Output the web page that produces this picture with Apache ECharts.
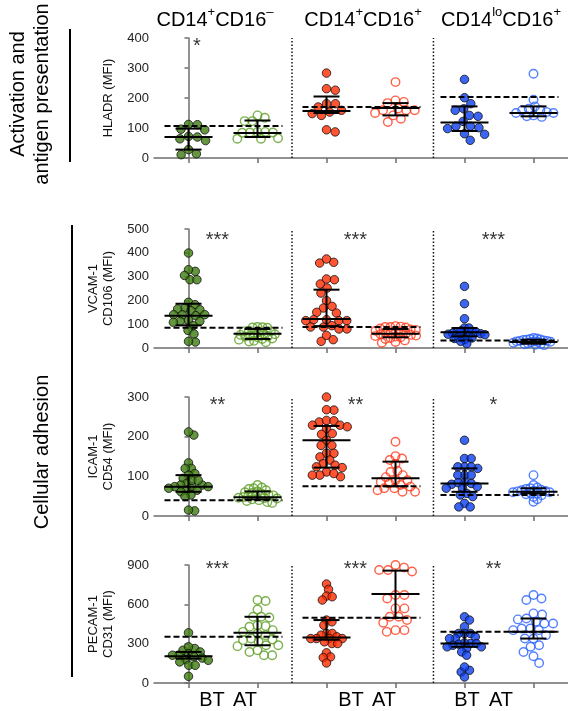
<!DOCTYPE html>
<html>
<head>
<meta charset="utf-8">
<title>Monocyte subsets, BT vs AT</title>
<script src="https://cdn.jsdelivr.net/npm/echarts@6.0.0/dist/echarts.min.js"></script>
<style>
  html, body { margin: 0; padding: 0; background: #fff; }
  #chart { width: 568px; height: 711px; }
</style>
</head>
<body>
<div id="chart"></div>
<script>
// ---- values (MFI) ----
const timePoints = ['BT', 'AT'];
const subsetHeaders = [
  '{b|CD14}{s|+}{b|CD16}{s|–}',
  '{b|CD14}{s|+}{b|CD16}{s|+}',
  '{b|CD14}{s|lo}{b|CD16}{s|+}'
];

// HLADR
const hladrGreenBT = [111, 112, 96, 94, 72, 64, 70, 28, 11, 14, 58];
const hladrGreenAT = [142, 123, 123, 134, 87, 87, 85, 84, 85, 64, 64, 66];
const hladrRedBT = [283, 231, 226, 181, 181, 170, 159, 153, 148, 142, 87, 94];
const hladrRedAT = [253, 187, 192, 183, 142, 159, 159, 159, 120, 131, 165, 150];
const hladrBlueBT = [262, 201, 181, 164, 159, 142, 139, 122, 106, 98, 101, 106, 81, 79, 59];
const hladrBlueAT = [281, 194, 172, 159, 159, 164, 153, 150, 139, 137, 142, 150];
const hladrMedian = [70, 83, 157, 167, 118, 150];
const hladrQ1 = [28, 70, 150, 142, 90, 139];
const hladrQ3 = [98, 125, 205, 183, 172, 172];
const hladrRef = [107, 170, 203];
const hladrStars = ['*', '', ''];

// VCAM-1
const vcamGreenBT = [399, 322, 329, 287, 287, 305, 192, 182, 168, 161, 157, 164, 140, 140, 136, 140, 112, 108, 112, 116, 94, 74, 59, 25, 28];
const vcamGreenAT = [88, 86, 87, 85, 72, 70, 70, 68, 62, 60, 58, 55, 50, 48, 48, 45, 38, 30, 27, 24, 40, 35];
const vcamRedBT = [360, 357, 374, 290, 269, 287, 252, 231, 199, 168, 175, 147, 150, 119, 115, 119, 115, 115, 88, 88, 94, 80, 80, 53, 35, 28];
const vcamRedAT = [92, 90, 88, 88, 86, 82, 78, 76, 72, 70, 68, 66, 64, 60, 58, 55, 52, 50, 48, 45, 42, 38, 32, 25, 22];
const vcamBlueBT = [259, 186, 123, 84, 84, 66, 70, 66, 66, 62, 60, 56, 49, 52, 45, 42, 40, 35, 18, 28, 72, 58];
const vcamBlueAT = [42, 40, 38, 36, 34, 32, 30, 30, 28, 26, 25, 24, 22, 20, 18, 16, 14, 12, 35, 28];
const vcamMedian = [136, 60, 122, 60, 66, 25];
const vcamQ1 = [95, 38, 92, 45, 49, 18];
const vcamQ3 = [186, 80, 245, 80, 84, 35];
const vcamRef = [85, 88, 32];
const vcamStars = ['***', '***', '***'];

// ICAM-1
const icamGreenBT = [204, 212, 134, 120, 120, 107, 103, 95, 82, 78, 74, 78, 74, 74, 65, 61, 65, 53, 49, 13, 15, 90, 90, 70];
const icamGreenAT = [78, 72, 70, 68, 65, 62, 60, 58, 56, 54, 52, 50, 50, 48, 46, 45, 44, 42, 40, 38, 35, 33];
const icamRedBT = [300, 267, 268, 237, 241, 240, 229, 229, 225, 220, 206, 208, 191, 178, 178, 158, 149, 158, 141, 132, 128, 124, 122, 111, 103, 99, 103, 107];
const icamRedAT = [187, 151, 145, 131, 141, 111, 114, 103, 78, 82, 90, 86, 90, 70, 70, 65, 74, 61, 61, 98];
const icamBlueBT = [191, 145, 145, 120, 124, 124, 124, 103, 103, 103, 86, 82, 80, 84, 70, 74, 70, 57, 49, 53, 32, 23, 23];
const icamBlueAT = [103, 78, 72, 70, 68, 66, 65, 64, 63, 62, 60, 60, 58, 57, 55, 52, 48, 42, 36];
const icamMedian = [74, 47, 191, 95, 82, 61];
const icamQ1 = [61, 42, 122, 75, 61, 57];
const icamQ3 = [103, 62, 227, 137, 120, 70];
const icamRef = [40, 75, 53];
const icamStars = ['**', '**', '*'];

// PECAM-1
const pecamGreenBT = [383, 250, 263, 276, 237, 224, 212, 199, 212, 190, 173, 179, 161, 135, 135, 51];
const pecamGreenAT = [633, 625, 561, 505, 505, 500, 441, 434, 429, 403, 378, 365, 390, 339, 332, 314, 327, 288, 288, 281, 237, 212, 212, 250];
const pecamRedBT = [755, 714, 663, 633, 658, 480, 441, 467, 378, 365, 378, 352, 339, 339, 339, 339, 301, 301, 314, 230, 199, 194, 153];
const pecamRedAT = [900, 862, 862, 850, 880, 671, 645, 671, 569, 569, 505, 505, 459, 480, 403, 390, 403];
const pecamBlueBT = [505, 480, 429, 378, 378, 378, 339, 339, 352, 301, 296, 288, 301, 306, 276, 263, 276, 237, 212, 97, 84, 122, 46];
const pecamBlueAT = [671, 633, 645, 531, 523, 485, 492, 467, 454, 454, 416, 403, 403, 416, 365, 339, 339, 288, 276, 237, 204, 153];
const pecamMedian = [204, 383, 347, 679, 301, 390];
const pecamQ1 = [186, 288, 330, 497, 276, 339];
const pecamQ3 = [237, 505, 480, 857, 385, 492];
const pecamRef = [352, 497, 390];
const pecamStars = ['***', '***', '**'];

const rows = [
  { name: 'HLADR (MFI)', max: 400, interval: 100,
    groups: [hladrGreenBT, hladrGreenAT, hladrRedBT, hladrRedAT, hladrBlueBT, hladrBlueAT],
    median: hladrMedian, q1: hladrQ1, q3: hladrQ3, ref: hladrRef, stars: hladrStars },
  { name: 'VCAM-1\nCD106 (MFI)', max: 500, interval: 100,
    groups: [vcamGreenBT, vcamGreenAT, vcamRedBT, vcamRedAT, vcamBlueBT, vcamBlueAT],
    median: vcamMedian, q1: vcamQ1, q3: vcamQ3, ref: vcamRef, stars: vcamStars },
  { name: 'ICAM-1\nCD54 (MFI)', max: 300, interval: 100,
    groups: [icamGreenBT, icamGreenAT, icamRedBT, icamRedAT, icamBlueBT, icamBlueAT],
    median: icamMedian, q1: icamQ1, q3: icamQ3, ref: icamRef, stars: icamStars },
  { name: 'PECAM-1\nCD31 (MFI)', max: 900, interval: 300,
    groups: [pecamGreenBT, pecamGreenAT, pecamRedBT, pecamRedAT, pecamBlueBT, pecamBlueAT],
    median: pecamMedian, q1: pecamQ1, q3: pecamQ3, ref: pecamRef, stars: pecamStars }
];

// ---- layout / style ----
const font = 'Liberation Sans, Arial, Helvetica, sans-serif';
const gridLeft = 154, gridWidth = 418;
const gridTops = [38, 229, 397, 565];
const gridHeights = [120, 119, 119, 118];
const xMin = -0.5, xMax = 5.5;
const pxPerX = gridWidth / (xMax - xMin);
const starLevel = [372, 450, 279, 868];
const starShift = [0.12, 0.42, 0.42, 0.42];
const separators = [1.5, 3.55];
const fillColors = ['#3d7c10', '#ff2a00', '#0b3ff0'];
const openColors = ['#5b9d22', '#ff3a1c', '#2a62ff'];
const axisGray = '#6e6e6e';
const maxSpread = 21; // px either side of a column

// simple beeswarm: horizontal pixel offset for every point of one column
function swarm(values, pxPerVal, dist) {
  const order = values.map((v, i) => i).sort((a, b) => values[b] - values[a]);
  const placed = [];
  const out = new Array(values.length);
  order.forEach(i => {
    const y = values[i] * pxPerVal;
    const cands = [0];
    placed.forEach(p => {
      const dy = Math.abs(p.y - y);
      if (dy < dist) {
        const dx = Math.sqrt(dist * dist - dy * dy);
        cands.push(p.x + dx, p.x - dx);
      }
    });
    cands.sort((a, b) => Math.abs(a) - Math.abs(b));
    const x = cands.find(c => placed.every(p => (p.x - c) ** 2 + (p.y - y) ** 2 >= dist * dist - 0.01));
    placed.push({ x, y });
    out[i] = x;
  });
  return out;
}

// shrink the spacing until the column fits its width
function packColumn(values, pxPerVal) {
  let offs;
  for (let d = 9; d >= 3; d -= 0.25) {
    offs = swarm(values, pxPerVal, d);
    if (Math.max(...offs.map(Math.abs)) <= maxSpread) break;
  }
  return offs;
}

const grids = [], xAxes = [], yAxes = [], series = [];

rows.forEach((row, r) => {
  grids.push({ left: gridLeft, top: gridTops[r], width: gridWidth, height: gridHeights[r] });
  xAxes.push({
    gridIndex: r, type: 'value', min: xMin, max: xMax,
    axisLine: { show: true, lineStyle: { color: axisGray, width: 1.5 } },
    axisTick: { show: true, customValues: [0, 1, 2, 3, 4, 5], length: 5, lineStyle: { color: axisGray, width: 1.5 } },
    axisLabel: { show: false },
    splitLine: { show: false }
  });
  yAxes.push({
    gridIndex: r, type: 'value', min: 0, max: row.max, interval: row.interval,
    name: row.name, nameLocation: 'middle', nameRotate: 90, nameGap: r === 0 ? 37 : 38,
    nameTextStyle: { fontFamily: font, fontSize: 13, color: '#111', lineHeight: 15 },
    axisLine: { show: true, lineStyle: { color: axisGray, width: 1.5 } },
    axisTick: { show: true, length: 4, lineStyle: { color: axisGray, width: 1.5 } },
    axisLabel: { fontFamily: font, fontSize: 13, color: '#222', margin: 5 },
    splitLine: { show: false }
  });

  const pxPerVal = gridHeights[r] / row.max;
  row.groups.forEach((vals, g) => {
    const offs = packColumn(vals, pxPerVal);
    const c = Math.floor(g / 2);
    const open = g % 2 === 1;
    series.push({
      type: 'scatter', xAxisIndex: r, yAxisIndex: r, silent: true, z: 2,
      symbol: 'circle', symbolSize: 8.5,
      data: vals.map((v, i) => [g + offs[i] / pxPerX, v]),
      itemStyle: open
        ? { color: 'rgba(255,255,255,0)', borderColor: openColors[c], borderWidth: 1.4 }
        : { color: fillColors[c], borderColor: '#111', borderWidth: 1 }
    });
  });

  // dotted separators between subsets
  series.push({
    type: 'custom', xAxisIndex: r, yAxisIndex: r, silent: true, z: 1,
    data: separators.map(x => [x, 0]),
    renderItem: (params, api) => {
      const a = api.coord([api.value(0), 0]);
      const b = api.coord([api.value(0), row.max]);
      return { type: 'line', shape: { x1: a[0], y1: a[1], x2: b[0], y2: b[1] },
        style: { stroke: '#111', lineWidth: 1.5, lineDash: [1.5, 2] } };
    }
  });

  // dashed reference line across each subset
  series.push({
    type: 'custom', xAxisIndex: r, yAxisIndex: r, silent: true, z: 3,
    data: row.ref.map((v, c) => [c * 2, v]),
    renderItem: (params, api) => {
      const a = api.coord([api.value(0), api.value(1)]);
      const b = api.coord([api.value(0) + 1, api.value(1)]);
      return { type: 'line', shape: { x1: a[0] - 24, y1: a[1], x2: b[0] + 25, y2: b[1] },
        style: { stroke: '#000', lineWidth: 2, lineDash: [6, 3] } };
    }
  });

  // median with interquartile range
  series.push({
    type: 'custom', xAxisIndex: r, yAxisIndex: r, silent: true, z: 4,
    data: row.median.map((m, g) => [g, m, row.q1[g], row.q3[g]]),
    renderItem: (params, api) => {
      const x = api.value(0);
      const m = api.coord([x, api.value(1)]);
      const lo = api.coord([x, api.value(2)]);
      const hi = api.coord([x, api.value(3)]);
      const s = { stroke: '#000', lineWidth: 2 };
      return { type: 'group', children: [
        { type: 'line', shape: { x1: lo[0], y1: lo[1], x2: hi[0], y2: hi[1] }, style: s },
        { type: 'line', shape: { x1: m[0] - 24, y1: m[1], x2: m[0] + 24, y2: m[1] }, style: s },
        { type: 'line', shape: { x1: lo[0] - 13, y1: lo[1], x2: lo[0] + 13, y2: lo[1] }, style: s },
        { type: 'line', shape: { x1: hi[0] - 13, y1: hi[1], x2: hi[0] + 13, y2: hi[1] }, style: s }
      ] };
    }
  });

  // significance stars
  series.push({
    type: 'scatter', xAxisIndex: r, yAxisIndex: r, silent: true, z: 5,
    symbolSize: 0,
    data: row.stars.map((t, c) => ({ name: t, value: [c * 2 + starShift[r], starLevel[r]] })),
    label: { show: true, position: 'inside', formatter: '{b}', fontFamily: font, fontSize: 20, color: '#000' }
  });
});

const graphic = [];
subsetHeaders.forEach((t, c) => {
  graphic.push({
    type: 'text', x: [215, 363, 501][c], y: 18,
    style: {
      text: t, textAlign: 'center', textVerticalAlign: 'middle',
      rich: {
        b: { fontFamily: font, fontSize: 20, color: '#000', lineHeight: 24, verticalAlign: 'bottom' },
        s: { fontFamily: font, fontSize: 13, color: '#000', lineHeight: 13, verticalAlign: 'top' }
      }
    }
  });
});
[[212, 245], [351, 384], [467, 501]].forEach(pair => {
  pair.forEach((x, k) => {
    graphic.push({ type: 'text', x, y: 700,
      style: { text: timePoints[k], font: '20px ' + font, fill: '#000', textAlign: 'center', textVerticalAlign: 'middle' } });
  });
});
graphic.push(
  { type: 'text', x: 30, y: 94, rotation: Math.PI / 2,
    style: { text: 'Activation and\nantigen presentation', font: '20px ' + font, fill: '#000',
      textAlign: 'center', textVerticalAlign: 'middle', lineHeight: 24 } },
  { type: 'line', shape: { x1: 70, y1: 29, x2: 70, y2: 162 }, style: { stroke: '#000', lineWidth: 2 } },
  { type: 'text', x: 42, y: 452, rotation: Math.PI / 2,
    style: { text: 'Cellular adhesion', font: '20px ' + font, fill: '#000',
      textAlign: 'center', textVerticalAlign: 'middle' } },
  { type: 'line', shape: { x1: 72, y1: 225, x2: 72, y2: 677 }, style: { stroke: '#000', lineWidth: 2 } }
);

const chart = echarts.init(document.getElementById('chart'), null, { renderer: 'canvas' });
chart.setOption({
  animation: false,
  backgroundColor: '#fff',
  grid: grids,
  xAxis: xAxes,
  yAxis: yAxes,
  series,
  graphic
});
window.onresize = chart.resize;
</script>
</body>
</html>
